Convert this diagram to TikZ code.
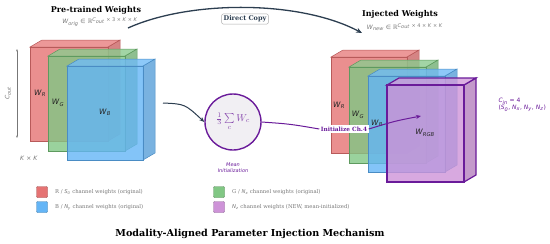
\documentclass[tikz,border=0pt]{standalone}
\usepackage{amsmath,amssymb}
\usepackage{fontspec}
\setmainfont{DejaVu Serif}
\setsansfont{DejaVu Sans}
\newfontfamily\mathsans{DejaVu Sans}
\usetikzlibrary{positioning,arrows.meta,calc}
\definecolor{RedW}{HTML}{E57373}
\definecolor{RedE}{HTML}{B85A5A}
\definecolor{GreenW}{HTML}{81C784}
\definecolor{GreenE}{HTML}{5E9A5F}
\definecolor{BlueW}{HTML}{64B5F6}
\definecolor{BlueE}{HTML}{4A8CC4}
\definecolor{PurpW}{HTML}{CE93D8}
\definecolor{PurpE}{HTML}{6A1B9A}
\definecolor{Ink}{HTML}{2C3E50}
\definecolor{Muted}{HTML}{777777}
\definecolor{CircFill}{HTML}{F1EFF3}
% italic symbol with subscript, set in the sans face
\newcommand{\sym}[2]{{\mathsans\textit{#1}\textsubscript{\textit{#2}}}}
% one weight block: #1,#2 top-left  #3,#4 bottom-right  #5 fill  #6 edge  #7 edge width
\newcommand{\wbox}[7]{%
  \filldraw[fill=#5!88!black, draw=#6, fill opacity=0.8, line width=#7]
    (#3,#2) -- ++(12,-7) -- ++(0,#4-#2) -- (#3,#4) -- cycle;
  \filldraw[fill=#5!92!white, draw=#6, fill opacity=0.8, line width=#7]
    (#1,#2) -- ++(12,-7) -- (#3+12,#2-7) -- (#3,#2) -- cycle;
  \filldraw[fill=#5, draw=#6, fill opacity=0.8, line width=#7]
    (#1,#2) rectangle (#3,#4);
}
\begin{document}
\begin{tikzpicture}[x=1pt, y=-1pt,
  headline/.style={font=\fontsize{8}{9}\selectfont\bfseries},
  shapeinfo/.style={font=\mathsans\fontsize{6}{7}\selectfont, text=Muted},
  wlabel/.style={font=\fontsize{7.5}{8}\selectfont, text=black!85},
  legsq/.style={draw=#1!70!black, fill=#1, minimum width=11pt, minimum height=11pt,
    inner sep=0pt, rounded corners=1pt, line width=0.4pt},
  legtxt/.style={font=\fontsize{5.3}{6}\selectfont, text=Muted, anchor=west},
  purpline/.style={draw=PurpE, line width=1pt}]
  \useasboundingbox (0,0) rectangle (550,244);
  % headings
  \node[headline] (pretitle) at (96,10) {Pre-trained Weights};
  \node[shapeinfo] (preshape) at (100,22)
    {\sym{W}{orig} ∈ ℝ\textsuperscript{\textit{C}\textsubscript{\textit{out}} × 3 × \textit{K} × \textit{K}}};
  \node[headline] (injtitle) at (400,14) {Injected Weights};
  \node[shapeinfo] (injshape) at (405,27)
    {\sym{W}{new} ∈ ℝ\textsuperscript{\textit{C}\textsubscript{\textit{out}} × 4 × \textit{K} × \textit{K}}};
  % direct copy arc
  \coordinate (copyA) at (128,28);
  \coordinate (copyB) at (362,33);
  \draw[Ink, line width=1.3pt, -{Stealth[length=6pt,width=5pt]}]
    (copyA) .. controls (190,0) and (300,0) .. (copyB);
  \node[draw=Muted!60, fill=white, rounded corners=2pt, line width=0.5pt,
    font=\fontsize{6.5}{7}\selectfont\bfseries, text=Ink, inner sep=2pt] (copylab) at (245,19) {Direct Copy};
  % original stack
  \wbox{30}{47}{108}{141}{RedW}{RedE}{0.5pt}
  \wbox{48}{56}{125}{151}{GreenW}{GreenE}{0.5pt}
  \wbox{67}{66}{143}{160}{BlueW}{BlueE}{0.5pt}
  \node[wlabel] (lwr) at (40,93) {\sym{W}{R}};
  \node[wlabel] (lwg) at (58,103) {\sym{W}{G}};
  \node[wlabel] (lwb) at (105,112) {\sym{W}{B}};
  \coordinate (coutT) at (17,49);
  \coordinate (coutB) at (17,138);
  \draw[Muted, line width=0.5pt, {Stealth[length=2.5pt]}-{Stealth[length=2.5pt]}] (coutT) -- (coutB);
  \node[shapeinfo, rotate=90] (coutlab) at (8,93) {\sym{C}{out}};
  \node[shapeinfo] (kklab) at (29,158) {\textit{K} × \textit{K}};
  % mean initialisation
  \node[circle, draw=PurpE, fill=CircFill, line width=1.4pt, minimum size=56pt,
    text=PurpE!80] (mean) at (233,122)
    {$\frac{1}{3}\sum\limits_{c} W_c$};
  \node[align=center, font=\mathsans\fontsize{5}{6}\selectfont\itshape, text=PurpE] (meanlab)
    at (233,168) {Mean\\Initialization};
  \coordinate (lout) at (163,103);
  \draw[Ink, line width=1pt, -{Stealth[length=5pt,width=4pt]}]
    (lout) .. controls (185,104) .. (mean.west);
  % injected stack
  \wbox{331}{57}{407}{153}{RedW}{RedE}{0.5pt}
  \wbox{349}{67}{426}{163}{GreenW}{GreenE}{0.5pt}
  \wbox{368}{76}{445}{172}{BlueW}{BlueE}{0.5pt}
  \wbox{387}{85}{464}{182}{PurpW}{PurpE}{1.2pt}
  \node[wlabel] (rwr) at (339,105) {\sym{W}{R}};
  \node[wlabel] (rwg) at (358,115) {\sym{W}{G}};
  \node[wlabel] (rwb) at (377,123) {\sym{W}{B}};
  \node[wlabel] (rwrgb) at (425,133) {\sym{W}{RGB}};
  % channel 4 link
  \node[fill=white, inner sep=1.5pt, font=\fontsize{5.8}{6}\selectfont\bfseries,
    text=PurpE] (initlab) at (344,129) {Initialize Ch.4};
  \coordinate (ch4) at (421,116);
  \draw[purpline] (mean.east) .. controls (290,124) .. (initlab.west);
  \draw[purpline, -{Stealth[length=5pt,width=4pt]}] (initlab.east) .. controls (395,121) .. (ch4);
  \node[font=\mathsans\fontsize{6}{7}\selectfont, text=PurpE, align=left, anchor=west] (cinlab)
    at (495,105) {\sym{C}{in} = 4\\(\sym{S}{0}, \sym{N}{x}, \sym{N}{y}, \sym{N}{z})};
  % legend
  \node[legsq=RedW] (lgr) at (42,192) {};
  \node[legtxt, right=4pt of lgr] (lgrt) {R / \sym{S}{0} channel weights (original)};
  \node[legsq=BlueW] (lgb) at (42,207) {};
  \node[legtxt, right=4pt of lgb] (lgbt) {B / \sym{N}{y} channel weights (original)};
  \node[legsq=GreenW] (lgg) at (219,192) {};
  \node[legtxt, right=4pt of lgg] (lggt) {G / \sym{N}{x} channel weights (original)};
  \node[legsq=PurpW] (lgp) at (219,207) {};
  \node[legtxt, right=4pt of lgp] (lgpt) {\sym{N}{z} channel weights (NEW, mean-initialized)};
  % title
  \node[font=\fontsize{9.6}{11}\selectfont\bfseries] (maintitle) at (250,234)
    {Modality-Aligned Parameter Injection Mechanism};
\end{tikzpicture}
\end{document}
